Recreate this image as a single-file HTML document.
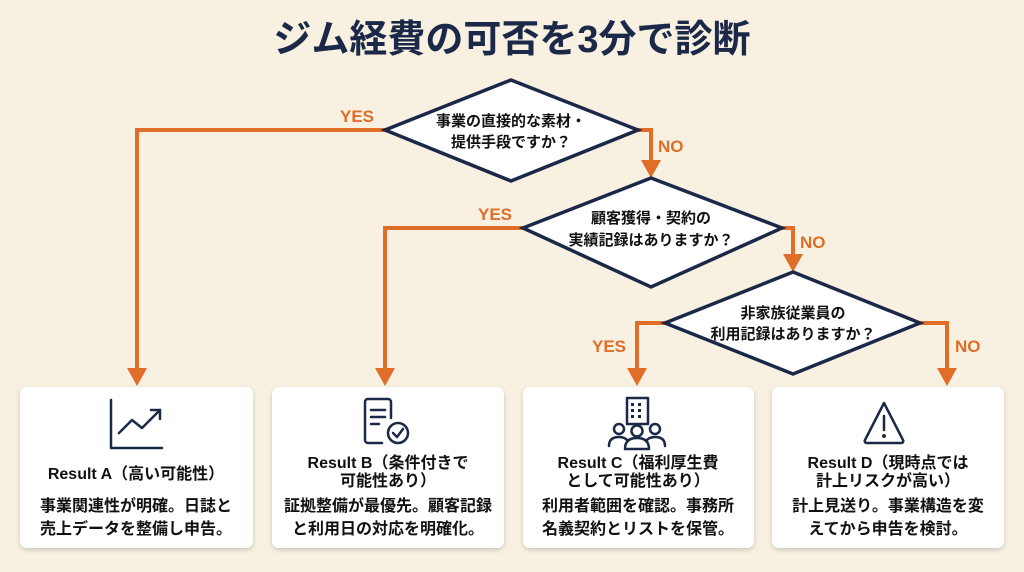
<!DOCTYPE html>
<html><head><meta charset="utf-8"><style>
html,body{margin:0;padding:0;background:#f8f1e2;}
svg{display:block;}
text{font-family:"Liberation Sans","Noto Sans CJK JP",sans-serif;}
</style></head><body>
<svg width="1024" height="572" viewBox="0 0 1024 572" xmlns="http://www.w3.org/2000/svg">
<defs>
<filter id="sh" x="-10%" y="-10%" width="120%" height="130%"><feDropShadow dx="0" dy="2" stdDeviation="2.5" flood-color="#000" flood-opacity="0.18"/></filter>
</defs>
<rect width="1024" height="572" fill="#f8f1e2"/>
<text x="512" y="52" text-anchor="middle" font-size="38" font-weight="bold" fill="#1b2847">ジム経費の可否を3分で診断</text>

<g stroke="#e06d28" stroke-width="4" fill="none" stroke-linejoin="miter">
<polyline points="385,130 137,130 137,372"/>
<polyline points="638,130 651,130 651,164"/>
<polyline points="523,228 385,228 385,372"/>
<polyline points="782,228 793,228 793,258"/>
<polyline points="665,323 637,323 637,372"/>
<polyline points="920,323 947,323 947,372"/>
</g>
<g fill="#e06d28">
<polygon points="127,368 147,368 137,386"/>
<polygon points="375,368 395,368 385,386"/>
<polygon points="641,160 661,160 651,178"/>
<polygon points="783,254 803,254 793,272"/>
<polygon points="627,368 647,368 637,386"/>
<polygon points="937,368 957,368 947,386"/>
</g>
<g font-size="17" font-weight="bold" fill="#e06d28">
<text x="340" y="122">YES</text>
<text x="658" y="152">NO</text>
<text x="478" y="220">YES</text>
<text x="800" y="248">NO</text>
<text x="592" y="352">YES</text>
<text x="955" y="352">NO</text>
</g>

<g fill="#fff" stroke="#1b2847" stroke-width="3.5" stroke-linejoin="miter">
<polygon points="385,130 511,80 638,130 511,181"/>
<polygon points="523,228 651,178 782,228 651,287"/>
<polygon points="665,323 793,272 920,323 793,374"/>
</g>
<g font-size="15" fill="#111" text-anchor="middle" font-weight="bold">
<text x="511" y="126">事業の直接的な素材・</text>
<text x="511" y="147">提供手段ですか？</text>
<text x="651" y="223">顧客獲得・契約の</text>
<text x="651" y="245">実績記録はありますか？</text>
<text x="793" y="318">非家族従業員の</text>
<text x="793" y="339">利用記録はありますか？</text>
</g>

<g fill="#fff" filter="url(#sh)">
<rect x="20" y="387" width="233" height="161" rx="7"/>
<rect x="272" y="387" width="232" height="161" rx="7"/>
<rect x="523" y="387" width="231" height="161" rx="7"/>
<rect x="772" y="387" width="232" height="161" rx="7"/>
</g>

<g stroke="#1b2847" stroke-width="2.5" fill="none" stroke-linecap="round" stroke-linejoin="round">
<polyline points="111,400 111,448 162,448"/>
<polyline points="119,433 132,420 142,428 160,410"/>
<polyline points="151,410 160,410 160,419"/>
<path d="M391,418 V402 a3,3 0 0 0 -3,-3 H368 a3,3 0 0 0 -3,3 V440 a3,3 0 0 0 3,3 H382"/>
<line x1="371" y1="410" x2="385" y2="410"/><line x1="371" y1="417" x2="385" y2="417"/><line x1="371" y1="424" x2="379" y2="424"/>
<circle cx="398" cy="433" r="10"/><polyline points="393,433 397,437 403,429"/>
<rect x="627" y="398" width="21" height="26"/>
<circle cx="619" cy="429" r="5"/><path d="M609,446 q0,-9 10,-9 q6,0 9,4"/>
<circle cx="637" cy="431" r="5.5"/><path d="M625,449 q0,-11 12,-11 q12,0 12,11 z"/>
<circle cx="655" cy="429" r="5"/><path d="M665,446 q0,-9 -10,-9 q-6,0 -9,4"/>
<path d="M884,403 L865,440 a2,2 0 0 0 2,3 H901 a2,2 0 0 0 2,-3 Z"/>
<line x1="884" y1="416" x2="884" y2="430"/>
</g>
<g fill="#1b2847">
<rect x="631" y="403" width="3" height="3"/><rect x="638" y="403" width="3" height="3"/>
<rect x="631" y="409" width="3" height="3"/><rect x="638" y="409" width="3" height="3"/>
<rect x="631" y="415" width="3" height="3"/><rect x="638" y="415" width="3" height="3"/>
<circle cx="884" cy="436" r="2"/>
</g>

<g font-size="16" font-weight="bold" fill="#111" text-anchor="middle">
<text x="136" y="479">Result A（高い可能性）</text>
<text x="388" y="468">Result B（条件付きで</text>
<text x="388" y="486">可能性あり）</text>
<text x="638" y="468">Result C（福利厚生費</text>
<text x="638" y="486">として可能性あり）</text>
<text x="888" y="468">Result D（現時点では</text>
<text x="888" y="486">計上リスクが高い）</text>
</g>
<g font-size="16" font-weight="bold" fill="#111" text-anchor="middle">
<text x="136" y="511">事業関連性が明確。日誌と</text>
<text x="136" y="534">売上データを整備し申告。</text>
<text x="388" y="511">証拠整備が最優先。顧客記録</text>
<text x="388" y="534">と利用日の対応を明確化。</text>
<text x="638" y="511">利用者範囲を確認。事務所</text>
<text x="638" y="534">名義契約とリストを保管。</text>
<text x="888" y="511">計上見送り。事業構造を変</text>
<text x="888" y="534">えてから申告を検討。</text>
</g>
</svg>
</body></html>
